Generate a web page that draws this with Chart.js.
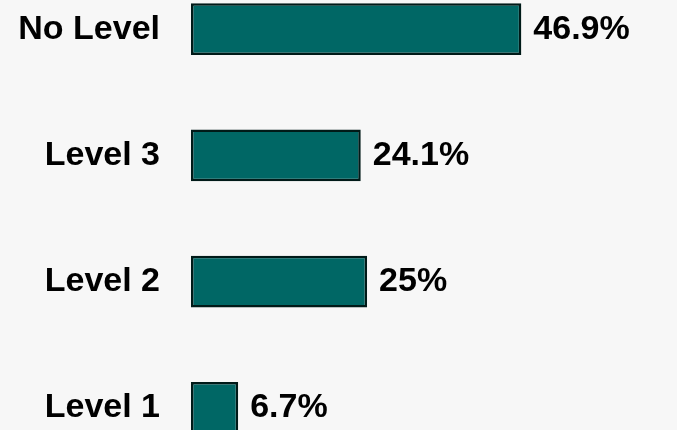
<!DOCTYPE html>
<html>
<head>
<meta charset="utf-8">
<script src="https://cdn.jsdelivr.net/npm/chart.js@4/dist/chart.umd.min.js"></script>
<style>
  html, body { margin: 0; padding: 0; background: #f7f7f7; overflow: hidden; width: 677px; height: 430px; }
  #chart { position: absolute; left: 0; top: -34px; }
</style>
</head>
<body>
<canvas id="chart" width="677" height="505"></canvas>
<script>
const categories = ['No Level', 'Level 3', 'Level 2', 'Level 1'];
const percentages = [46.9, 24.1, 25, 6.7];

const FONT = '"Liberation Sans", Arial, sans-serif';

// dibuja el % al final de cada barra
const valueLabels = {
    id: 'valueLabels',
    afterDatasetsDraw(chart) {
        const ctx = chart.ctx;
        const meta = chart.getDatasetMeta(0);
        ctx.save();
        ctx.font = 'bold 34px ' + FONT;
        ctx.fillStyle = '#000';
        ctx.textAlign = 'left';
        ctx.textBaseline = 'middle';
        meta.data.forEach((bar, i) => {
            ctx.fillText(percentages[i] + '%', bar.x + 12, bar.y);
        });
        ctx.restore();
    }
};

new Chart(document.getElementById('chart').getContext('2d'), {
    type: 'bar',
    data: {
        labels: categories,
        datasets: [{
            data: percentages,
            backgroundColor: '#006765',
            borderColor: '#001a18',
            borderWidth: 2.5,
            borderSkipped: false,
            categoryPercentage: 1,
            barPercentage: 0.41
        }]
    },
    options: {
        indexAxis: 'y',
        responsive: false,
        animation: false,
        layout: { padding: 0 },
        plugins: {
            legend: { display: false },
            tooltip: { enabled: false }
        },
        scales: {
            x: {
                display: false,
                min: 0,
                max: 69
            },
            y: {
                grid: { display: false, drawTicks: false },
                border: { display: false },
                ticks: {
                    padding: 31,
                    color: '#000',
                    font: { family: FONT, size: 34, weight: 'bold' }
                },
                afterFit(scale) {
                    scale.width = 191;
                    scale.paddingTop = 0;
                    scale.paddingBottom = 0;
                }
            }
        }
    },
    plugins: [valueLabels]
});
</script>
</body>
</html>
